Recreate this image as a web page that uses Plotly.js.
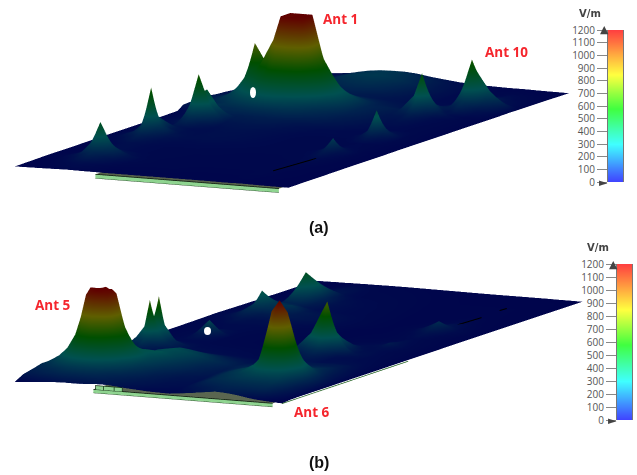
<!DOCTYPE html>
<html><head><meta charset="utf-8">
<script src="https://cdn.plot.ly/plotly-3.0.1.min.js"></script>
<style>html,body{margin:0;padding:0;background:#fff}#c{width:637px;height:475px}</style></head>
<body><div id="c"></div>
<script>
var W=637,H=475;
var tickVals=[0,100,200,300,400,500,600,700,800,900,1000,1100,1200];
var barStops=[0,300,580,850,1200];
var barColors=['#4040ff','#40ffff','#40ff40','#ffff40','#ff4040'];
var surfStops=[0,300,580,850,1200];
var surfColors=['#00004c','#005050','#004f00','#5f5f00','#600000'];

var uA=[0,.06,.10,.13,.16,.19,.23,.28,.32,.36,.40,.44,.5,.6,.7,.75,.78,.81,.84,.87,.92,1];
var vA=[0,.05,.09,.105,.12,.135,.15,.19,.25,.29,.315,.33,.345,.37,.41,.44,.455,.47,.485,.50,.52,.55,.58,.60,.62,.635,.65,.67,.69,.705,.72,.75,.78,.795,.83,.89,.95,1];
var zA=[
[18,20,22,24,26,28,26,25,24,24,24,24,24,24,24,22,22,24,24,22,20,18],
[20,24,30,36,44,52,42,32,28,28,28,28,28,26,26,26,28,28,26,24,22,20],
[22,28,42,65,110,150,95,50,36,32,30,30,30,28,28,28,30,30,28,26,24,20],
[24,30,55,90,190,270,170,70,40,34,32,30,30,28,28,28,30,30,28,26,24,20],
[24,32,60,105,230,470,210,80,42,34,32,32,30,30,30,30,30,30,28,26,24,20],
[24,30,55,90,170,260,160,70,42,34,32,32,30,30,30,30,30,30,28,26,24,20],
[24,28,45,65,100,140,90,50,38,34,32,32,30,30,30,30,32,32,30,28,24,22],
[22,28,36,42,48,55,44,38,36,34,34,32,32,30,30,30,32,36,32,28,26,22],
[24,30,36,48,60,52,44,38,36,36,36,34,34,32,32,34,34,40,48,38,28,22],
[25,40,60,90,130,85,52,44,42,42,42,40,38,34,34,36,40,62,105,55,30,22],
[25,50,95,145,290,140,68,50,46,48,46,44,40,36,36,38,48,90,220,80,30,22],
[25,50,100,200,640,200,80,54,50,52,50,46,42,36,36,36,44,75,130,65,30,22],
[25,50,90,150,300,170,75,54,54,56,54,50,44,36,36,36,40,52,70,48,28,22],
[25,42,60,90,210,95,60,50,56,58,56,52,46,36,34,34,36,38,42,38,30,24],
[25,36,40,55,80,70,50,48,60,62,60,54,48,36,34,34,34,36,38,36,30,24],
[25,42,50,60,120,170,90,58,66,68,66,60,50,38,36,36,42,65,100,60,32,24],
[25,44,55,75,190,300,170,66,72,74,72,66,54,38,38,38,50,90,190,85,34,24],
[25,46,60,85,290,650,290,75,78,80,78,72,58,42,42,42,60,130,380,140,36,24],
[25,46,60,85,230,420,220,85,88,90,88,80,62,44,42,42,55,100,210,110,36,24],
[25,44,58,80,200,430,240,100,98,100,98,90,70,46,40,40,48,70,105,70,34,24],
[25,44,55,75,110,190,130,105,110,112,110,105,85,68,44,42,46,50,60,52,32,24],
[26,44,70,110,190,150,150,170,178,180,178,170,135,90,58,46,42,42,40,36,32,24],
[28,70,115,135,160,190,235,285,320,320,285,240,175,105,68,50,50,46,40,36,32,24],
[80,105,130,160,195,245,320,430,490,490,430,340,225,120,72,58,60,52,42,36,32,24],
[85,115,150,190,240,310,420,560,850,900,800,520,290,130,75,62,72,58,44,38,32,24],
[85,118,155,205,290,430,520,760,1200,1200,1150,660,330,135,78,70,95,66,46,38,32,24],
[85,120,160,215,320,480,570,900,1200,1200,1200,700,340,135,80,85,130,78,48,40,32,24],
[85,120,165,260,410,800,580,860,1200,1200,1200,680,335,135,90,140,280,120,54,40,32,24],
[85,110,145,200,300,430,410,480,620,660,620,470,260,125,100,280,560,270,115,60,34,24],
[80,100,130,170,220,300,310,380,450,470,430,340,225,115,85,190,320,200,85,50,32,24],
[72,92,115,140,180,190,235,285,320,320,285,240,175,105,70,110,190,115,60,95,45,24],
[65,78,90,100,115,125,140,170,175,175,170,150,125,85,58,70,90,90,130,190,70,24],
[52,65,72,78,85,90,100,105,110,110,105,100,88,68,50,52,62,90,330,650,180,26],
[48,58,64,68,72,78,90,100,108,112,112,105,90,68,48,46,52,80,300,500,260,26],
[42,50,56,60,66,72,90,115,135,150,155,150,125,75,42,38,40,50,100,130,70,24],
[32,40,46,54,64,78,120,170,195,205,210,200,165,90,40,34,34,36,45,60,40,24],
[26,34,42,52,62,78,110,150,175,190,195,180,140,72,38,32,30,30,32,30,28,22],
[22,28,32,38,45,55,75,95,110,120,125,115,85,48,32,28,26,26,26,24,22,20]];

var uB=[0,.05,.08,.11,.13,.15,.19,.23,.26,.30,.35,.42,.50,.58,.66,.72,.75,.78,.81,.84,.87,.90,.95,1];
var vB=[0,.03,.05,.07,.09,.105,.12,.135,.15,.17,.19,.21,.24,.27,.30,.32,.335,.35,.365,.38,.40,.415,.43,.46,.48,.50,.54,.58,.62,.65,.665,.69,.74,.80,.88,1];
var zB=[
[15,30,40,48,52,58,62,60,65,75,75,50,30,22,55,85,100,95,85,70,50,35,20,10],
[85,105,120,125,135,140,140,140,135,120,100,75,55,40,85,115,130,135,135,135,135,135,60,20],
[105,135,145,170,190,205,215,205,190,145,120,85,60,50,120,150,160,165,170,170,170,165,80,22],
[125,170,220,270,310,340,365,340,280,220,150,100,65,55,150,180,195,210,215,220,215,210,100,22],
[150,220,290,420,530,680,850,680,470,290,190,110,72,60,155,195,220,250,290,300,290,250,110,22],
[140,255,365,560,800,1120,1200,1120,680,365,210,125,78,65,165,215,265,300,420,500,420,300,125,22],
[140,265,385,640,950,1200,1200,1200,770,390,240,145,90,70,170,225,280,380,800,1050,800,380,145,22],
[140,255,365,560,800,1120,1200,1120,680,385,250,170,105,80,175,240,300,450,1040,1200,1040,450,150,22],
[150,220,290,420,530,680,850,680,490,330,270,190,120,85,170,225,280,380,800,1050,800,380,145,22],
[125,170,220,270,310,340,365,340,310,320,310,215,130,90,165,215,265,300,420,500,420,300,125,22],
[105,135,145,170,190,205,215,205,230,260,280,240,150,100,150,180,195,210,215,220,215,210,100,22],
[85,105,120,125,135,140,140,140,170,260,290,250,170,110,135,150,160,165,170,170,170,165,85,22],
[62,80,90,95,100,105,110,115,150,230,260,215,140,95,110,125,130,135,135,135,135,135,70,22],
[50,60,66,72,76,80,85,95,120,175,195,150,105,70,90,100,105,105,105,105,105,100,55,22],
[42,50,60,90,125,80,70,80,90,110,115,95,70,55,70,80,85,85,85,85,85,80,45,22],
[36,60,100,150,230,130,90,70,70,72,72,62,50,42,70,82,72,62,66,66,64,60,40,22],
[34,100,200,350,720,350,150,90,60,56,54,48,42,36,78,95,78,58,58,58,56,52,38,22],
[32,90,200,330,420,320,140,85,56,50,48,44,38,34,88,120,88,54,54,54,50,46,36,22],
[30,100,200,350,730,350,145,80,52,48,46,42,36,32,105,170,105,54,50,50,46,44,34,22],
[28,60,100,150,230,140,80,60,46,44,42,38,34,30,170,330,170,70,50,50,44,42,32,22],
[26,40,55,70,95,75,55,48,42,40,38,36,32,28,330,780,380,200,90,60,46,40,30,22],
[26,34,40,46,50,46,44,42,38,36,34,32,30,28,230,440,270,120,70,60,46,38,30,22],
[26,32,36,40,44,44,46,40,36,34,32,30,28,26,170,300,220,110,60,55,44,36,30,22],
[26,30,34,38,42,60,100,56,36,32,30,28,26,26,85,140,110,60,48,48,40,34,28,22],
[26,30,34,38,44,110,260,110,38,32,30,28,26,24,55,65,60,50,50,60,50,36,28,22],
[26,30,34,38,42,60,100,56,36,32,30,28,26,24,36,42,48,50,60,105,60,40,28,22],
[26,30,32,36,38,40,44,42,38,34,30,28,26,24,30,32,34,38,44,60,44,34,28,22],
[28,32,34,38,42,46,44,44,42,40,38,32,28,24,28,28,30,32,36,42,36,30,26,22],
[30,36,42,56,72,85,60,56,60,56,50,42,32,26,26,28,30,36,50,70,50,34,26,22],
[32,44,64,100,140,150,100,100,100,90,80,55,40,28,26,28,34,52,90,130,85,44,28,22],
[34,46,70,120,170,210,170,150,120,90,80,60,40,30,26,30,36,60,110,170,100,48,28,22],
[32,42,58,90,160,360,210,180,190,100,80,60,40,30,26,28,32,44,60,80,60,38,26,22],
[28,36,44,52,70,90,130,120,80,60,50,42,36,30,24,26,28,30,34,38,34,28,24,20],
[24,28,32,50,80,150,470,320,130,70,50,40,34,28,24,24,24,24,26,26,26,24,22,20],
[20,24,26,32,44,60,85,75,50,38,36,34,30,26,24,24,24,24,24,24,24,22,20,18],
[18,20,22,22,24,24,26,26,28,28,28,26,24,22,20,20,20,20,20,20,20,18,18,16]];

var plateU=[.29,.96], plateV=[.005,.6], plateZ=[-55,-8];
var boxU=[.30,.40], boxV=[.005,.06], boxZ=[-8,50];
var boxLineU=[.30,.30,.40,.40,null,.33,.33,null,.37,.37];
var boxLineZ=[-8,50,50,-8,null,-8,50,null,-8,50];
var dashAu=[.826,.845], dashAv=[.115,.25], dashAz=[48,48];
var dashBu=[.848,.857,null,.848,.851], dashBv=[.708,.791,null,.859,.88], dashBz=[48,48,null,48,48];
var edgeBu=[1,1], edgeBv=[0,.42], edgeBz=[6,6];

function pos(stops,cols){return stops.map(function(s,i){return [s/1200,cols[i]];});}
function faceMesh(us,vs,zs,color,scene){
  var x,y,z;
  if(zs[0]===zs[1]){x=[us[0],us[1],us[1],us[0]];y=[vs[0],vs[0],vs[1],vs[1]];z=[zs[0],zs[0],zs[0],zs[0]];}
  else{x=[us[0],us[1],us[1],us[0]];y=[vs[0],vs[0],vs[0],vs[0]];z=[zs[0],zs[0],zs[1],zs[1]];}
  return {type:'mesh3d',x:x,y:y,z:z,i:[0,0],j:[1,2],k:[2,3],color:color,scene:scene,hoverinfo:'skip',
    flatshading:true,lighting:{ambient:1,diffuse:0,specular:0,roughness:1,fresnel:0}};
}
function line3(x,y,z,color,w,scene){return {type:'scatter3d',mode:'lines',x:x,y:y,z:z,line:{color:color,width:w},scene:scene,hoverinfo:'skip',showlegend:false,connectgaps:false};}
function surf(x,y,z,scene){return {type:'surface',x:x,y:y,z:z,scene:scene,cmin:0,cmax:1200,colorscale:pos(surfStops,surfColors),showscale:false,hoverinfo:'skip',
    lighting:{ambient:1,diffuse:0,specular:0,roughness:1,fresnel:0},contours:{x:{show:false},y:{show:false},z:{show:false}}};}
function barTrace(xa,ya){return {type:'heatmap',x:[0,1],y:tickVals,z:tickVals.map(function(t){return [t,t];}),zmin:0,zmax:1200,zsmooth:'best',
    colorscale:pos(barStops,barColors),showscale:false,xaxis:xa,yaxis:ya,hoverinfo:'skip'};}

var data=[
 surf(uA,vA,zA,'scene'),
 faceMesh(plateU,[plateV[0],plateV[1]],[plateZ[1],plateZ[1]],'#55604a','scene'),
 faceMesh(plateU,[plateV[0],plateV[0]],plateZ,'#8fd490','scene'),
 line3(plateU,[plateV[0],plateV[0]],[plateZ[1],plateZ[1]],'#0a1a0a',1.5,'scene'),
 line3(plateU,[plateV[0],plateV[0]],[plateZ[0],plateZ[0]],'#1a3a1a',1.5,'scene'),
 line3(dashAu,dashAv,dashAz,'#000',2,'scene'),
 surf(uB,vB,zB,'scene2'),
 faceMesh(plateU,[plateV[0],plateV[1]],[plateZ[1],plateZ[1]],'#5a6650','scene2'),
 faceMesh(plateU,[plateV[0],plateV[0]],plateZ,'#8fd490','scene2'),
 faceMesh(boxU,[boxV[0],boxV[0]],boxZ,'#8fd490','scene2'),
 line3(boxLineU,boxLineU.map(function(){return boxV[0]-.002;}),boxLineZ,'#123012',1.5,'scene2'),
 line3(plateU,[plateV[0],plateV[0]],[plateZ[1],plateZ[1]],'#0a1a0a',1.5,'scene2'),
 line3(plateU,[plateV[0],plateV[0]],[plateZ[0],plateZ[0]],'#1a3a1a',1.5,'scene2'),
 line3(dashBu,dashBv,dashBz,'#000',2,'scene2'),
 line3(edgeBu,edgeBv,edgeBz,'#1f5f1f',1.5,'scene2'),
 barTrace('x','y'),
 barTrace('x2','y2')
];

function px(x){return x/W;} function py(y){return 1-y/H;}
var eyeDir=[.428,-.888,.162];
function scene(dx,dy,zr,ax,ay,az){return {domain:{x:[px(dx[0]),px(dx[1])],y:[py(dy[1]),py(dy[0])]},
  bgcolor:'rgba(0,0,0,0)',aspectmode:'manual',aspectratio:{x:ax,y:ay,z:az},
  xaxis:{visible:false,range:[0,1]},yaxis:{visible:false,range:[0,1]},zaxis:{visible:false,range:zr},
  camera:{projection:{type:'orthographic'},up:{x:0,y:0,z:1},center:{x:0,y:0,z:0},eye:{x:eyeDir[0]*10,y:eyeDir[1]*10,z:eyeDir[2]*10}}};}
function xAxis(a,b){return {domain:[px(a),px(b)],range:[0,1],visible:false,fixedrange:true};}
function yAxis(a,b,anc){return {domain:[py(b),py(a)],range:[0,1200],anchor:anc,tickmode:'array',tickvals:tickVals,ticks:'outside',ticklen:10,tickwidth:1,tickcolor:'#888',
  tickfont:{family:'"Open Sans",sans-serif',size:10,color:'#555'},showgrid:false,zeroline:false,showline:true,linecolor:'#777',mirror:true,fixedrange:true};}
function note(t,x,y,font,size,color,bold){return {text:bold?'<b>'+t+'</b>':t,x:px(x),y:py(y),xref:'paper',yref:'paper',xanchor:'center',yanchor:'middle',showarrow:false,
  font:{family:font,size:size,color:color}};}
function hole(x0,y0,x1,y1){return {type:'circle',xref:'paper',yref:'paper',x0:px(x0),x1:px(x1),y0:py(y1),y1:py(y0),fillcolor:'#fff',line:{width:0},layer:'above'};}
var redF='"Open Sans",sans-serif', capF='"Liberation Sans",Arial,sans-serif', unitF='"DejaVu Sans",sans-serif';
var layout={width:W,height:H,margin:{l:0,r:0,t:0,b:0},paper_bgcolor:'#fff',plot_bgcolor:'#fff',showlegend:false,
 scene:scene([0,584],[1,201],[-460,1200],3.04,6.47,1.38),
 scene2:scene([0,597],[194,414],[-120,1200],2.70,6.30,.88),
 xaxis:xAxis(608,623),yaxis:yAxis(30,182,'x'),
 xaxis2:xAxis(617,632),yaxis2:yAxis(264,420,'x2'),
 shapes:[hole(250,87,256,98),hole(204,327,211,335)],
 annotations:[
  note('Ant 1',340,19,redF,13.5,'#f5262d',true),
  note('Ant 10',506,52,redF,13.5,'#f5262d',true),
  note('Ant 5',53,305,redF,13.5,'#f5262d',true),
  note('Ant 6',312,412,redF,13.5,'#f5262d',true),
  note('(a)',319,227,capF,16,'#111',true),
  note('(b)',319,462,capF,16,'#111',true),
  note('V/m',590,13,unitF,10,'#444',true),
  note('V/m',598,247,unitF,10,'#444',true),
  note('▲',604,30,unitF,11,'#444',false),
  note('►',603,182,unitF,11,'#444',false),
  note('▲',613,264,unitF,11,'#444',false),
  note('►',612,420,unitF,11,'#444',false)
 ]};
Plotly.newPlot('c',data,layout,{displayModeBar:false});
</script></body></html>
